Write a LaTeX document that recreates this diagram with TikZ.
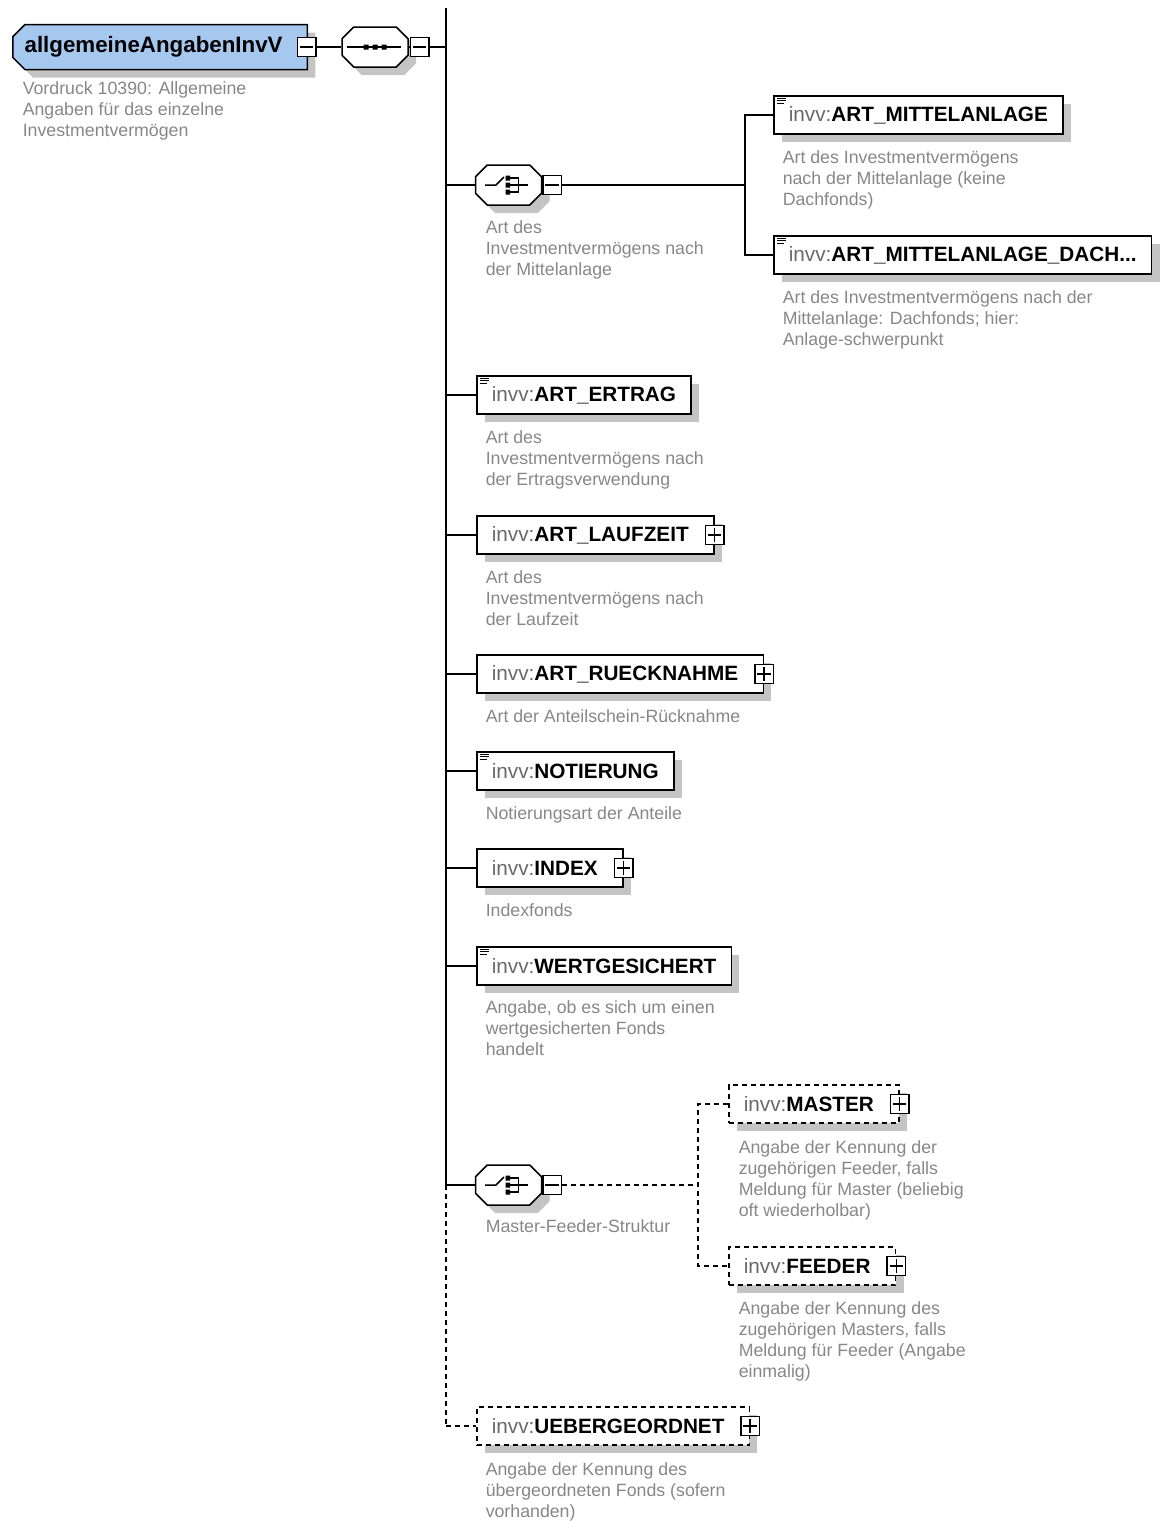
\documentclass[tikz,border=0pt]{standalone}
\usepackage{fontspec}
\setmainfont{Liberation Sans}
\usetikzlibrary{shapes.misc,shadows,positioning}
\definecolor{rootblue}{RGB}{166,199,238}
\definecolor{shadowgray}{RGB}{196,196,196}
\definecolor{nsgray}{RGB}{105,105,105}
\definecolor{docgray}{RGB}{135,135,135}
\newcommand\invv[1]{{\color{nsgray}invv:}\textbf{#1}}

\begin{document}
\begin{tikzpicture}[x=0.2mm,y=-0.2mm,line width=0.3mm,
	shade box/.style={drop shadow={shadow xshift=1.6mm,shadow yshift=-1.6mm,fill=shadowgray,opacity=1}},
	root node/.style={chamfered rectangle,chamfered rectangle corners={north west,south west},chamfered rectangle xsep=1.2mm,draw,fill=rootblue,shade box,minimum height=8mm,minimum width=58.6mm,anchor=west,execute at end node={\hspace{2.6mm}},font=\fontsize{12.7}{15}\selectfont\bfseries},
	comp node/.style={chamfered rectangle,chamfered rectangle xsep=2mm,draw,fill=white,shade box,minimum height=8mm,minimum width=13.2mm},
	elem/.style={draw,fill=white,shade box,minimum height=7.6mm,inner xsep=3mm,inner ysep=0,anchor=west,font=\fontsize{11.8}{14}\selectfont},
	elem plus/.style={elem,execute at end node={\hspace{2mm}}},
	opt/.style={dash pattern=on 1mm off 0.8mm},
	opt elem/.style={elem plus,opt},
	pm box/.style={draw,fill=white,minimum width=3.7mm,minimum height=3.8mm,inner sep=0,line width=0.3mm},
	minus/.style={pm box,path picture={\draw[line width=0.3mm] ([xshift=0.5mm]path picture bounding box.west) -- ([xshift=-0.5mm]path picture bounding box.east);}},
	plus/.style={pm box,path picture={
		\draw[line width=0.3mm] ([xshift=0.5mm]path picture bounding box.west) -- ([xshift=-0.5mm]path picture bounding box.east);
		\draw[line width=0.3mm] ([yshift=-0.5mm]path picture bounding box.north) -- ([yshift=0.5mm]path picture bounding box.south);}},
	doc/.style={anchor=north west,align=left,inner sep=0,text=docgray,font=\fontsize{10.1}{12}\selectfont},
	doc icon/.pic={\draw[line width=0.25mm] (4,3) -- (13,3) (4,5.5) -- (13,5.5) (4,8) -- (11,8);},
	seq sym/.pic={\draw[line width=0.3mm] (-28,0) -- (26,0);
		\fill (-11.5,-2.5) rectangle (-6.5,2.5) (-2.5,-2.5) rectangle (2.5,2.5) (6.5,-2.5) rectangle (11.5,2.5);},
	choice sym/.pic={\draw[line width=0.3mm] (-23.5,0) -- (-12.5,0) -- (-4.5,-8);
		\fill (-3,-9.5) rectangle (1.5,-4.5) (-3,-2.5) rectangle (1.5,2.5) (-3,4.5) rectangle (1.5,9.5);
		\draw[line width=0.3mm] (1.5,-7) -- (10,-7) -- (10,7) -- (1.5,7) (1.5,0) -- (19.5,0);}]

	\useasboundingbox (0,0) rectangle (1161,1521);

	% root and sequence
	\node[root node] (root) at (12,47) {allgemeineAngabenInvV};
	\node[minus] (rootm) at (306.5,47) {};
	\node[doc] (root-doc) at (22,81) {Vordruck 10390: Allgemeine\\Angaben für das einzelne\\Investmentvermögen};
	\node[comp node] (seq) at (375,47) {};
	\pic at (seq) {seq sym};
	\node[minus] (seqm) at (419.5,47) {};

	\coordinate (top) at (446,8);
	\coordinate (jmf) at (446,1185);
	\coordinate (jub) at (446,1426);
	\coordinate (b1) at (745,185);
	\coordinate (b2) at (698,1185);

	% first choice
	\node[comp node] (c1) at (508.5,185) {};
	\pic at (c1) {choice sym};
	\node[minus] (c1m) at (552,185) {};
	\node[doc] (c1-doc) at (485,220) {Art des\\Investmentvermögens nach\\der Mittelanlage};

	\node[elem] (mittel) at (773,115) {\invv{ART\_MITTELANLAGE}};
	\pic at (mittel.north west) {doc icon};
	\node[doc] (mittel-doc) at (782,150) {Art des Investmentvermögens\\nach der Mittelanlage (keine\\Dachfonds)};
	\node[elem] (dach) at (773,255) {\invv{ART\_MITTELANLAGE\_DACH...}};
	\pic at (dach.north west) {doc icon};
	\node[doc] (dach-doc) at (782,290) {Art des Investmentvermögens nach der\\Mittelanlage: Dachfonds; hier:\\Anlage-schwerpunkt};

	% sequence children
	\node[elem] (ertrag) at (476,395) {\invv{ART\_ERTRAG}};
	\pic at (ertrag.north west) {doc icon};
	\node[doc] (ertrag-doc) at (485,430) {Art des\\Investmentvermögens nach\\der Ertragsverwendung};

	\node[elem plus] (laufzeit) at (476,535) {\invv{ART\_LAUFZEIT}};
	\node[plus] (laufzeitp) at (laufzeit.east) {};
	\node[doc] (laufzeit-doc) at (485,570) {Art des\\Investmentvermögens nach\\der Laufzeit};

	\node[elem plus] (rueck) at (476,674) {\invv{ART\_RUECKNAHME}};
	\node[plus] (rueckp) at (rueck.east) {};
	\node[doc] (rueck-doc) at (485,709) {Art der Anteilschein-Rücknahme};

	\node[elem] (notier) at (476,771) {\invv{NOTIERUNG}};
	\pic at (notier.north west) {doc icon};
	\node[doc] (notier-doc) at (485,806) {Notierungsart der Anteile};

	\node[elem plus] (index) at (476,868) {\invv{INDEX}};
	\node[plus] (indexp) at (index.east) {};
	\node[doc] (index-doc) at (485,903) {Indexfonds};

	\node[elem] (wert) at (476,966) {\invv{WERTGESICHERT}};
	\pic at (wert.north west) {doc icon};
	\node[doc] (wert-doc) at (485,1000) {Angabe, ob es sich um einen\\wertgesicherten Fonds\\handelt};

	% master / feeder choice
	\node[comp node] (c2) at (508.5,1185) {};
	\pic at (c2) {choice sym};
	\node[minus] (c2m) at (552,1185) {};
	\node[doc] (c2-doc) at (485,1219) {Master-Feeder-Struktur};

	\node[opt elem] (master) at (728,1104) {\invv{MASTER}};
	\node[plus] (masterp) at (master.east) {};
	\node[doc] (master-doc) at (738,1140) {Angabe der Kennung der\\zugehörigen Feeder, falls\\Meldung für Master (beliebig\\oft wiederholbar)};

	\node[opt elem] (feeder) at (728,1266) {\invv{FEEDER}};
	\node[plus] (feederp) at (feeder.east) {};
	\node[doc] (feeder-doc) at (738,1301) {Angabe der Kennung des\\zugehörigen Masters, falls\\Meldung für Feeder (Angabe\\einmalig)};

	\node[opt elem] (ueber) at (476,1426) {\invv{UEBERGEORDNET}};
	\node[plus] (ueberp) at (ueber.east) {};
	\node[doc] (ueber-doc) at (485,1462) {Angabe der Kennung des\\übergeordneten Fonds (sofern\\vorhanden)};

	% connectors
	\draw (rootm.east) -- (seq.west);
	\draw (seq.east) -- (seqm.west);
	\draw (seqm.east) -- (seqm.east -| top);
	\draw (top) -- (jmf);
	\draw[opt] (jmf) -- (jub);
	\draw (c1.west -| top) -- (c1.west);
	\draw (c1.east) -- (c1m.west);
	\draw (c1m.east) -- (b1);
	\draw (mittel.west) -| (b1) |- (dach.west);
	\draw (ertrag.west -| top) -- (ertrag.west);
	\draw (laufzeit.west -| top) -- (laufzeit.west);
	\draw (rueck.west -| top) -- (rueck.west);
	\draw (notier.west -| top) -- (notier.west);
	\draw (index.west -| top) -- (index.west);
	\draw (wert.west -| top) -- (wert.west);
	\draw (jmf) -- (c2.west);
	\draw (c2.east) -- (c2m.west);
	\draw[opt] (c2m.east) -- (b2);
	\draw[opt] (master.west) -| (b2) |- (feeder.west);
	\draw[opt] (jub) -- (ueber.west);

\end{tikzpicture}
\end{document}
